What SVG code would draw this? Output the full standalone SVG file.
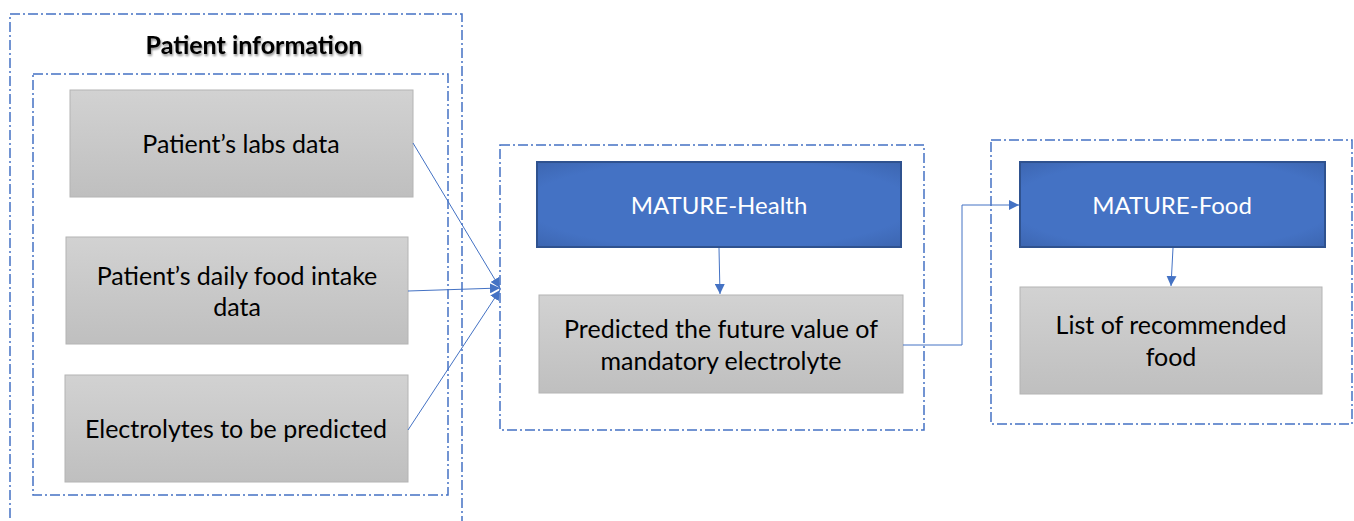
<svg xmlns="http://www.w3.org/2000/svg" width="1354" height="521" viewBox="0 0 1354 521">
<defs>
<style>
.frame{fill:none;stroke:#4472c4;stroke-width:1.5;stroke-dasharray:10 3 2 3}
.gray{fill:url(#gg);stroke:#b4b4b4;stroke-width:1}
.blue{fill:url(#bg);stroke:#2f528f;stroke-width:2}
.t{font-family:Lato,"Open Sans",sans-serif;font-size:25px;fill:#000;text-anchor:middle}
.tw{font-family:Lato,"Open Sans",sans-serif;font-size:24px;fill:#fff;text-anchor:middle}
.title{font-family:Lato,"Open Sans",sans-serif;font-size:25px;font-weight:bold;fill:#000;text-anchor:middle}
.con{fill:none;stroke:#4472c4;stroke-width:1}
</style>
<linearGradient id="gg" x1="0" y1="0" x2="0" y2="1">
<stop offset="0" stop-color="#d2d2d2"/>
<stop offset="1" stop-color="#bfbfbf"/>
</linearGradient>
<radialGradient id="bg" cx="0.5" cy="0.5" r="0.75">
<stop offset="0.7" stop-color="#4472c4"/>
<stop offset="1" stop-color="#3a62ab"/>
</radialGradient>
<filter id="sh" x="-10%" y="-30%" width="120%" height="160%">
<feGaussianBlur in="SourceAlpha" stdDeviation="1.2"/>
<feOffset dx="1" dy="1.5" result="b"/>
<feComponentTransfer><feFuncA type="linear" slope="0.45"/></feComponentTransfer>
<feMerge><feMergeNode/><feMergeNode in="SourceGraphic"/></feMerge>
</filter>
<marker id="ah" viewBox="0 0 10 10" refX="10" refY="5" markerWidth="10" markerHeight="10" markerUnits="userSpaceOnUse" orient="auto">
<path d="M0,0 L10,5 L0,10 z" fill="#4472c4"/>
</marker>
</defs>

<g id="patient-info">
<rect class="frame" x="10" y="14" width="452" height="520"/>
<text class="title" x="254" y="54" filter="url(#sh)">Patient information</text>
<rect class="frame" x="33" y="74" width="415" height="421"/>
</g>

<g id="labs">
<rect class="gray" x="70" y="90" width="343" height="107"/>
<text class="t" x="241" y="153">Patient’s labs data</text>
</g>

<g id="daily-food">
<rect class="gray" x="66" y="237" width="342" height="107"/>
<text class="t" x="237" y="285">Patient’s daily food intake</text>
<text class="t" x="237" y="316">data</text>
</g>

<g id="electrolytes">
<rect class="gray" x="65" y="375" width="343" height="107"/>
<text class="t" x="236" y="438">Electrolytes to be predicted</text>
</g>

<g id="mature-health-group">
<rect class="frame" x="500" y="145" width="424" height="285"/>
</g>

<g id="mature-health">
<rect class="blue" x="537" y="162" width="364" height="85"/>
<text class="tw" x="719" y="214">MATURE-Health</text>
</g>

<g id="predicted">
<rect class="gray" x="539" y="295" width="364" height="98"/>
<text class="t" x="721" y="338">Predicted the future value of</text>
<text class="t" x="721" y="370">mandatory electrolyte</text>
</g>

<g id="mature-food-group">
<rect class="frame" x="991" y="140" width="361" height="284"/>
</g>

<g id="mature-food">
<rect class="blue" x="1020" y="162" width="305" height="85"/>
<text class="tw" x="1172" y="214">MATURE-Food</text>
</g>

<g id="recommended">
<rect class="gray" x="1020" y="287" width="302" height="107"/>
<text class="t" x="1171" y="334">List of recommended</text>
<text class="t" x="1171" y="366">food</text>
</g>

<g id="connectors">
<line class="con" x1="413" y1="143" x2="500" y2="288" marker-end="url(#ah)"/>
<line class="con" x1="408" y1="291" x2="500" y2="288" marker-end="url(#ah)"/>
<line class="con" x1="408" y1="430" x2="500" y2="290" marker-end="url(#ah)"/>
<line class="con" x1="719" y1="248" x2="720" y2="294" marker-end="url(#ah)"/>
<polyline class="con" points="903,345 962,345 962,205 1019,205" marker-end="url(#ah)"/>
<line class="con" x1="1173" y1="248" x2="1171" y2="286" marker-end="url(#ah)"/>
</g>
</svg>
